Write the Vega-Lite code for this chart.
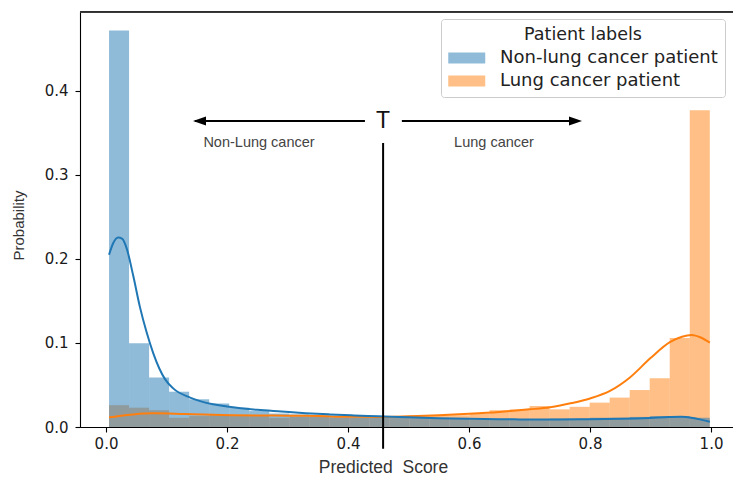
{
  "$schema": "https://vega.github.io/schema/vega-lite/v6.json",
  "width": 654,
  "height": 416,
  "autosize": {"type": "none"},
  "padding": {"left": 80, "top": 11, "right": -1, "bottom": 51},
  "background": "white",
  "config": {
    "view": {"stroke": "#222", "strokeWidth": 1},
    "axis": {
      "grid": false,
      "domainColor": "#000",
      "domainWidth": 1.1,
      "tickColor": "#000",
      "tickWidth": 1.1,
      "tickSize": 5,
      "labelColor": "#1a1a1a",
      "labelFont": "DejaVu Sans",
      "labelFontSize": 15,
      "titleFont": "Liberation Sans",
      "titleFontWeight": "normal",
      "titleColor": "#333"
    },
    "legend": {
      "orient": "none",
      "legendX": 361,
      "legendY": 8,
      "padding": 7,
      "strokeColor": "#cccccc",
      "fillColor": "white",
      "cornerRadius": 3,
      "titleFont": "DejaVu Sans",
      "titleFontSize": 17.5,
      "titleFontWeight": "normal",
      "titleColor": "#222",
      "titleAnchor": "middle",
      "titleAlign": "center",
      "titlePadding": 5,
      "labelFont": "DejaVu Sans",
      "labelFontSize": 18,
      "labelColor": "#222",
      "labelLimit": 400,
      "labelOffset": 33,
      "rowPadding": 4,
      "symbolType": "M-1,-0.6H3V0.6H-1Z",
      "symbolSize": 342,
      "symbolOpacity": 0.5,
      "symbolStrokeWidth": 0
    }
  },
  "datasets": {
    "bars": [
      {"s": "Lung cancer patient", "x0": 0.005, "x1": 0.0381, "p": 0.026},
      {"s": "Lung cancer patient", "x0": 0.0381, "x1": 0.0712, "p": 0.023},
      {"s": "Lung cancer patient", "x0": 0.0712, "x1": 0.1043, "p": 0.020},
      {"s": "Lung cancer patient", "x0": 0.1043, "x1": 0.1374, "p": 0.011},
      {"s": "Lung cancer patient", "x0": 0.1374, "x1": 0.1705, "p": 0.013},
      {"s": "Lung cancer patient", "x0": 0.1705, "x1": 0.2036, "p": 0.014},
      {"s": "Lung cancer patient", "x0": 0.2036, "x1": 0.2367, "p": 0.013},
      {"s": "Lung cancer patient", "x0": 0.2367, "x1": 0.2698, "p": 0.013},
      {"s": "Lung cancer patient", "x0": 0.2698, "x1": 0.3029, "p": 0.011},
      {"s": "Lung cancer patient", "x0": 0.3029, "x1": 0.336, "p": 0.012},
      {"s": "Lung cancer patient", "x0": 0.336, "x1": 0.3691, "p": 0.012},
      {"s": "Lung cancer patient", "x0": 0.3691, "x1": 0.4022, "p": 0.011},
      {"s": "Lung cancer patient", "x0": 0.4022, "x1": 0.4353, "p": 0.011},
      {"s": "Lung cancer patient", "x0": 0.4353, "x1": 0.4684, "p": 0.011},
      {"s": "Lung cancer patient", "x0": 0.4684, "x1": 0.5015, "p": 0.012},
      {"s": "Lung cancer patient", "x0": 0.5015, "x1": 0.5346, "p": 0.014},
      {"s": "Lung cancer patient", "x0": 0.5346, "x1": 0.5677, "p": 0.014},
      {"s": "Lung cancer patient", "x0": 0.5677, "x1": 0.6008, "p": 0.014},
      {"s": "Lung cancer patient", "x0": 0.6008, "x1": 0.6339, "p": 0.016},
      {"s": "Lung cancer patient", "x0": 0.6339, "x1": 0.667, "p": 0.020},
      {"s": "Lung cancer patient", "x0": 0.667, "x1": 0.7001, "p": 0.021},
      {"s": "Lung cancer patient", "x0": 0.7001, "x1": 0.7332, "p": 0.025},
      {"s": "Lung cancer patient", "x0": 0.7332, "x1": 0.7663, "p": 0.021},
      {"s": "Lung cancer patient", "x0": 0.7663, "x1": 0.7994, "p": 0.024},
      {"s": "Lung cancer patient", "x0": 0.7994, "x1": 0.8325, "p": 0.029},
      {"s": "Lung cancer patient", "x0": 0.8325, "x1": 0.8656, "p": 0.035},
      {"s": "Lung cancer patient", "x0": 0.8656, "x1": 0.8987, "p": 0.044},
      {"s": "Lung cancer patient", "x0": 0.8987, "x1": 0.9318, "p": 0.058},
      {"s": "Lung cancer patient", "x0": 0.9318, "x1": 0.9649, "p": 0.106},
      {"s": "Lung cancer patient", "x0": 0.9649, "x1": 0.998, "p": 0.377},
      {"s": "Non-lung cancer patient", "x0": 0.005, "x1": 0.0381, "p": 0.472},
      {"s": "Non-lung cancer patient", "x0": 0.0381, "x1": 0.0712, "p": 0.0996},
      {"s": "Non-lung cancer patient", "x0": 0.0712, "x1": 0.1043, "p": 0.059},
      {"s": "Non-lung cancer patient", "x0": 0.1043, "x1": 0.1374, "p": 0.042},
      {"s": "Non-lung cancer patient", "x0": 0.1374, "x1": 0.1705, "p": 0.033},
      {"s": "Non-lung cancer patient", "x0": 0.1705, "x1": 0.2036, "p": 0.028},
      {"s": "Non-lung cancer patient", "x0": 0.2036, "x1": 0.2367, "p": 0.023},
      {"s": "Non-lung cancer patient", "x0": 0.2367, "x1": 0.2698, "p": 0.019},
      {"s": "Non-lung cancer patient", "x0": 0.2698, "x1": 0.3029, "p": 0.016},
      {"s": "Non-lung cancer patient", "x0": 0.3029, "x1": 0.336, "p": 0.015},
      {"s": "Non-lung cancer patient", "x0": 0.336, "x1": 0.3691, "p": 0.014},
      {"s": "Non-lung cancer patient", "x0": 0.3691, "x1": 0.4022, "p": 0.013},
      {"s": "Non-lung cancer patient", "x0": 0.4022, "x1": 0.4353, "p": 0.012},
      {"s": "Non-lung cancer patient", "x0": 0.4353, "x1": 0.4684, "p": 0.012},
      {"s": "Non-lung cancer patient", "x0": 0.4684, "x1": 0.5015, "p": 0.011},
      {"s": "Non-lung cancer patient", "x0": 0.5015, "x1": 0.5346, "p": 0.011},
      {"s": "Non-lung cancer patient", "x0": 0.5346, "x1": 0.5677, "p": 0.010},
      {"s": "Non-lung cancer patient", "x0": 0.5677, "x1": 0.6008, "p": 0.010},
      {"s": "Non-lung cancer patient", "x0": 0.6008, "x1": 0.6339, "p": 0.009},
      {"s": "Non-lung cancer patient", "x0": 0.6339, "x1": 0.667, "p": 0.009},
      {"s": "Non-lung cancer patient", "x0": 0.667, "x1": 0.7001, "p": 0.009},
      {"s": "Non-lung cancer patient", "x0": 0.7001, "x1": 0.7332, "p": 0.009},
      {"s": "Non-lung cancer patient", "x0": 0.7332, "x1": 0.7663, "p": 0.010},
      {"s": "Non-lung cancer patient", "x0": 0.7663, "x1": 0.7994, "p": 0.010},
      {"s": "Non-lung cancer patient", "x0": 0.7994, "x1": 0.8325, "p": 0.011},
      {"s": "Non-lung cancer patient", "x0": 0.8325, "x1": 0.8656, "p": 0.011},
      {"s": "Non-lung cancer patient", "x0": 0.8656, "x1": 0.8987, "p": 0.012},
      {"s": "Non-lung cancer patient", "x0": 0.8987, "x1": 0.9318, "p": 0.013},
      {"s": "Non-lung cancer patient", "x0": 0.9318, "x1": 0.9649, "p": 0.013},
      {"s": "Non-lung cancer patient", "x0": 0.9649, "x1": 0.998, "p": 0.011}
    ],
    "kde": [
      {"s": "Lung cancer patient", "x": 0.005, "d": 0.0115},
      {"s": "Lung cancer patient", "x": 0.025, "d": 0.0135},
      {"s": "Lung cancer patient", "x": 0.045, "d": 0.015},
      {"s": "Lung cancer patient", "x": 0.078, "d": 0.0163},
      {"s": "Lung cancer patient", "x": 0.13, "d": 0.0155},
      {"s": "Lung cancer patient", "x": 0.21, "d": 0.014},
      {"s": "Lung cancer patient", "x": 0.3, "d": 0.0135},
      {"s": "Lung cancer patient", "x": 0.35, "d": 0.013},
      {"s": "Lung cancer patient", "x": 0.4, "d": 0.0122},
      {"s": "Lung cancer patient", "x": 0.45, "d": 0.012},
      {"s": "Lung cancer patient", "x": 0.5, "d": 0.0128},
      {"s": "Lung cancer patient", "x": 0.55, "d": 0.014},
      {"s": "Lung cancer patient", "x": 0.6, "d": 0.0158},
      {"s": "Lung cancer patient", "x": 0.65, "d": 0.018},
      {"s": "Lung cancer patient", "x": 0.7, "d": 0.021},
      {"s": "Lung cancer patient", "x": 0.734, "d": 0.0235},
      {"s": "Lung cancer patient", "x": 0.77, "d": 0.0285},
      {"s": "Lung cancer patient", "x": 0.8, "d": 0.034},
      {"s": "Lung cancer patient", "x": 0.833, "d": 0.043},
      {"s": "Lung cancer patient", "x": 0.866, "d": 0.059},
      {"s": "Lung cancer patient", "x": 0.9, "d": 0.082},
      {"s": "Lung cancer patient", "x": 0.932, "d": 0.101},
      {"s": "Lung cancer patient", "x": 0.952, "d": 0.1075},
      {"s": "Lung cancer patient", "x": 0.968, "d": 0.1095},
      {"s": "Lung cancer patient", "x": 0.983, "d": 0.1065},
      {"s": "Lung cancer patient", "x": 0.998, "d": 0.1004},
      {"s": "Non-lung cancer patient", "x": 0.005, "d": 0.205},
      {"s": "Non-lung cancer patient", "x": 0.012, "d": 0.219},
      {"s": "Non-lung cancer patient", "x": 0.02, "d": 0.2255},
      {"s": "Non-lung cancer patient", "x": 0.027, "d": 0.224},
      {"s": "Non-lung cancer patient", "x": 0.034, "d": 0.213},
      {"s": "Non-lung cancer patient", "x": 0.045, "d": 0.18},
      {"s": "Non-lung cancer patient", "x": 0.056, "d": 0.143},
      {"s": "Non-lung cancer patient", "x": 0.067, "d": 0.113},
      {"s": "Non-lung cancer patient", "x": 0.078, "d": 0.088},
      {"s": "Non-lung cancer patient", "x": 0.0975, "d": 0.057},
      {"s": "Non-lung cancer patient", "x": 0.111, "d": 0.046},
      {"s": "Non-lung cancer patient", "x": 0.139, "d": 0.035},
      {"s": "Non-lung cancer patient", "x": 0.177, "d": 0.027},
      {"s": "Non-lung cancer patient", "x": 0.2, "d": 0.0245},
      {"s": "Non-lung cancer patient", "x": 0.25, "d": 0.0205},
      {"s": "Non-lung cancer patient", "x": 0.29, "d": 0.0185},
      {"s": "Non-lung cancer patient", "x": 0.33, "d": 0.0165},
      {"s": "Non-lung cancer patient", "x": 0.37, "d": 0.015},
      {"s": "Non-lung cancer patient", "x": 0.41, "d": 0.0138},
      {"s": "Non-lung cancer patient", "x": 0.45, "d": 0.0128},
      {"s": "Non-lung cancer patient", "x": 0.5, "d": 0.0115},
      {"s": "Non-lung cancer patient", "x": 0.55, "d": 0.0104},
      {"s": "Non-lung cancer patient", "x": 0.6, "d": 0.0097},
      {"s": "Non-lung cancer patient", "x": 0.65, "d": 0.0093},
      {"s": "Non-lung cancer patient", "x": 0.7, "d": 0.009},
      {"s": "Non-lung cancer patient", "x": 0.75, "d": 0.009},
      {"s": "Non-lung cancer patient", "x": 0.8, "d": 0.0092},
      {"s": "Non-lung cancer patient", "x": 0.85, "d": 0.0097},
      {"s": "Non-lung cancer patient", "x": 0.9, "d": 0.0108},
      {"s": "Non-lung cancer patient", "x": 0.93, "d": 0.0118},
      {"s": "Non-lung cancer patient", "x": 0.95, "d": 0.0122},
      {"s": "Non-lung cancer patient", "x": 0.97, "d": 0.0108},
      {"s": "Non-lung cancer patient", "x": 0.985, "d": 0.0085},
      {"s": "Non-lung cancer patient", "x": 0.998, "d": 0.0063}
    ]
  },
  "layer": [
    {
      "data": {"name": "bars"},
      "mark": {"type": "bar", "opacity": 0.5, "strokeWidth": 0},
      "encoding": {
        "x": {
          "field": "x0", "type": "quantitative",
          "scale": {"domain": [-0.043, 1.038], "nice": false, "zero": false},
          "axis": {
            "values": [0, 0.2, 0.4, 0.6, 0.8, 1.0], "format": ".1f",
            "title": "Predicted\u00a0 Score", "titleFontSize": 17.5,
            "titleX": 303, "titleY": 40, "titleBaseline": "middle", "titleAnchor": null,
            "labelPadding": 4
          }
        },
        "x2": {"field": "x1"},
        "y": {
          "field": "p", "type": "quantitative", "stack": null,
          "scale": {"domain": [0, 0.4952], "nice": false},
          "axis": {
            "values": [0, 0.1, 0.2, 0.3, 0.4], "format": ".1f",
            "title": "Probability", "titleFontSize": 15,
            "titleX": -62, "titleY": 214, "titleBaseline": "middle", "titleAlign": "center", "titleAngle": -90,
            "labelPadding": 7
          }
        },
        "y2": {"datum": 0},
        "fill": {
          "field": "s", "type": "nominal",
          "scale": {"domain": ["Non-lung cancer patient", "Lung cancer patient"], "range": ["#1f77b4", "#ff7f0e"]},
          "legend": {"title": "Patient labels"}
        }
      }
    },
    {
      "data": {"name": "kde"},
      "mark": {"type": "line", "strokeWidth": 2, "interpolate": "monotone"},
      "encoding": {
        "x": {"field": "x", "type": "quantitative"},
        "y": {"field": "d", "type": "quantitative"},
        "stroke": {
          "field": "s", "type": "nominal",
          "scale": {"domain": ["Non-lung cancer patient", "Lung cancer patient"], "range": ["#1f77b4", "#ff7f0e"]},
          "legend": null
        },
        "order": {"field": "x", "type": "quantitative"}
      }
    },
    {
      "data": {"values": [{"a": -0.043, "b": 1.038, "h": 0.4936}]},
      "mark": {"type": "rule", "color": "#3a3a3a", "strokeWidth": 1.5, "clip": false},
      "encoding": {
        "x": {"field": "a", "type": "quantitative"},
        "x2": {"field": "b"},
        "y": {"field": "h", "type": "quantitative"}
      }
    },
    {
      "data": {"values": [{"x": 0.458, "ytop": 0.338, "ybot": -0.026}]},
      "mark": {"type": "rule", "color": "#000", "strokeWidth": 2, "clip": false},
      "encoding": {
        "x": {"field": "x", "type": "quantitative"},
        "y": {"field": "ytop", "type": "quantitative"},
        "y2": {"field": "ybot"}
      }
    },
    {
      "data": {"values": [
        {"a": 0.147, "b": 0.428, "y": 0.3643},
        {"a": 0.489, "b": 0.777, "y": 0.3643}
      ]},
      "mark": {"type": "rule", "color": "#000", "strokeWidth": 2},
      "encoding": {
        "x": {"field": "a", "type": "quantitative"},
        "x2": {"field": "b"},
        "y": {"field": "y", "type": "quantitative"}
      }
    },
    {
      "data": {"values": [{"x": 0.1438, "y": 0.3643}]},
      "mark": {"type": "point", "shape": "M0,0L2,-0.7L2,0.7Z", "size": 169, "filled": true, "color": "#000", "opacity": 1, "strokeWidth": 0},
      "encoding": {
        "x": {"field": "x", "type": "quantitative"},
        "y": {"field": "y", "type": "quantitative"}
      }
    },
    {
      "data": {"values": [{"x": 0.7868, "y": 0.3643}]},
      "mark": {"type": "point", "shape": "M0,0L-2,-0.7L-2,0.7Z", "size": 169, "filled": true, "color": "#000", "opacity": 1, "strokeWidth": 0},
      "encoding": {
        "x": {"field": "x", "type": "quantitative"},
        "y": {"field": "y", "type": "quantitative"}
      }
    },
    {
      "data": {"values": [{"t": "T", "x": 0.458, "y": 0.3554}]},
      "mark": {"type": "text", "font": "Liberation Sans", "fontSize": 23, "color": "#111", "align": "center", "baseline": "alphabetic"},
      "encoding": {
        "x": {"field": "x", "type": "quantitative"},
        "y": {"field": "y", "type": "quantitative"},
        "text": {"field": "t"}
      }
    },
    {
      "data": {"values": [
        {"t": "Non-Lung cancer", "x": 0.2529, "y": 0.333},
        {"t": "Lung cancer", "x": 0.6413, "y": 0.333}
      ]},
      "mark": {"type": "text", "font": "Liberation Sans", "fontSize": 14.5, "color": "#444", "align": "center", "baseline": "alphabetic"},
      "encoding": {
        "x": {"field": "x", "type": "quantitative"},
        "y": {"field": "y", "type": "quantitative"},
        "text": {"field": "t"}
      }
    }
  ]
}
